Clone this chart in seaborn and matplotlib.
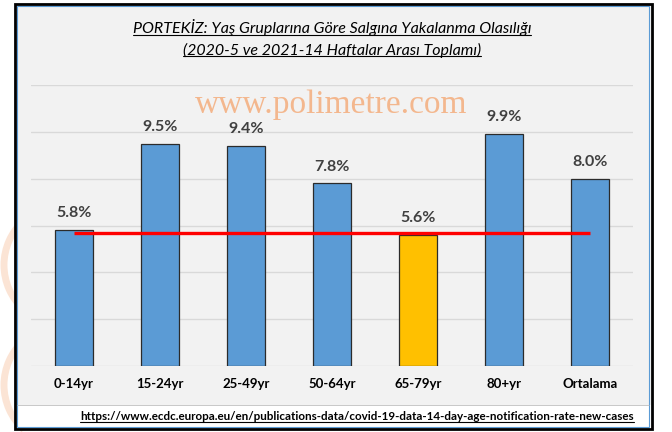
import matplotlib
matplotlib.use("Agg")
import matplotlib.pyplot as plt
import seaborn as sns
import pandas as pd
from matplotlib.patches import Rectangle, Arc
from matplotlib.lines import Line2D

categories = ["0-14yr", "15-24yr", "25-49yr", "50-64yr", "65-79yr", "80+yr", "Ortalama"]
values = [5.8, 9.5, 9.4, 7.8, 5.6, 9.9, 8.0]
bar_colors = ["#5B9BD5", "#5B9BD5", "#5B9BD5", "#5B9BD5", "#FFC000", "#5B9BD5", "#5B9BD5"]
ref_value = 5.7
title_lines = ["PORTEKİZ: Yaş Gruplarına Göre Salgına Yakalanma Olasılığı",
               "(2020-5 ve 2021-14 Haftalar Arası Toplamı)"]
watermark = "www.polimetre.com"
source = "https://www.ecdc.europa.eu/en/publications-data/covid-19-data-14-day-age-notification-rate-new-cases"

sns.set_theme(style="white")
plt.rcParams["font.family"] = ["Lato", "DejaVu Sans"]

W, H = 672, 432
fig = plt.figure(figsize=(W / 100, H / 100), dpi=100)
fig.patch.set_facecolor("white")

def px_rect(x0, y0, x1, y1, **kw):
    r = Rectangle((x0 / W, 1 - y1 / H), (x1 - x0) / W, (y1 - y0) / H,
                  transform=fig.transFigure, **kw)
    fig.add_artist(r)
    return r

# faint orange decoration on the left edge
for cy, rad in [(265, 60), (385, 60)]:
    a = Arc((64 / W, 1 - cy / H), 2 * rad / W, 2 * rad / H, theta1=120, theta2=240,
            transform=fig.transFigure, color="#FAD9C4", lw=5, alpha=0.7, zorder=0)
    fig.add_artist(a)

# panel backgrounds and frame
px_rect(15, 4, 651, 405, facecolor="#F2F2F2", edgecolor="none", zorder=1)
px_rect(15, 405, 651, 428, facecolor="white", edgecolor="none", zorder=1)
px_rect(16.5, 5.5, 649, 427, facecolor="none", edgecolor="#5B9BD5", lw=0.8, zorder=2)
px_rect(16.5, 405, 649, 405, facecolor="none", edgecolor="#BFBFBF", lw=0.6, zorder=2)
px_rect(14.5, 3.5, 651.5, 428.5, facecolor="none", edgecolor="black", lw=2.0, zorder=3)

ax = fig.add_axes([31 / W, 1 - 366 / H, 602 / W, 281 / H])
ax.set_facecolor("none")
ax.set_zorder(4)

df = pd.DataFrame({"cat": categories, "val": values})
sns.barplot(data=df, x="cat", y="val", hue="cat", palette=bar_colors, legend=False,
            saturation=1, width=0.45, edgecolor="#2B2B2B", linewidth=0.9, ax=ax, zorder=3)

ax.set_ylim(0, 12)
ax.set_xlim(-0.5, len(categories) - 0.5)
ax.set_yticks([0, 2, 4, 6, 8, 10, 12])
ax.yaxis.grid(True, color="#D9D9D9", lw=1.0)
ax.set_axisbelow(True)
ax.set_yticklabels([])
ax.tick_params(axis="y", length=0)
ax.tick_params(axis="x", length=0, pad=9)
for lab in ax.get_xticklabels():
    lab.set_fontweight("bold")
    lab.set_fontsize(9.5)
    lab.set_color("black")
ax.set_xlabel("")
ax.set_ylabel("")
for s in ax.spines.values():
    s.set_visible(False)

for cont in ax.containers:
    ax.bar_label(cont, fmt="%.1f%%", padding=7, fontsize=11.5, fontweight="bold", color="#404040")

ax.hlines(ref_value, 0, len(categories) - 1, color="#FF0000", lw=2.4, zorder=5)

fig.text(331 / W, 1 - 105 / H, watermark, family="Liberation Serif", fontsize=24,
         color="#F4B183", ha="center", va="center", alpha=0.9, zorder=6)

t1 = fig.text(332 / W, 1 - 28 / H, title_lines[0], fontsize=11.5, style="italic",
              color="black", ha="center", va="center", zorder=6)
t2 = fig.text(332 / W, 1 - 50 / H, title_lines[1], fontsize=11.5, style="italic",
              color="black", ha="center", va="center", zorder=6)
t3 = fig.text(634 / W, 1 - 417 / H, source, fontsize=8.4, fontweight="bold",
              color="black", ha="right", va="center", zorder=6)

fig.canvas.draw()
r = fig.canvas.get_renderer()
for t, off in [(t1, 1.5), (t2, 1.5), (t3, 1.0)]:
    bb = t.get_window_extent(renderer=r)
    y = bb.y0 + off
    fig.add_artist(Line2D([bb.x0 / W, bb.x1 / W], [y / H, y / H],
                          transform=fig.transFigure, color="black", lw=0.8, zorder=6))

fig.savefig("out.png", dpi=100)
